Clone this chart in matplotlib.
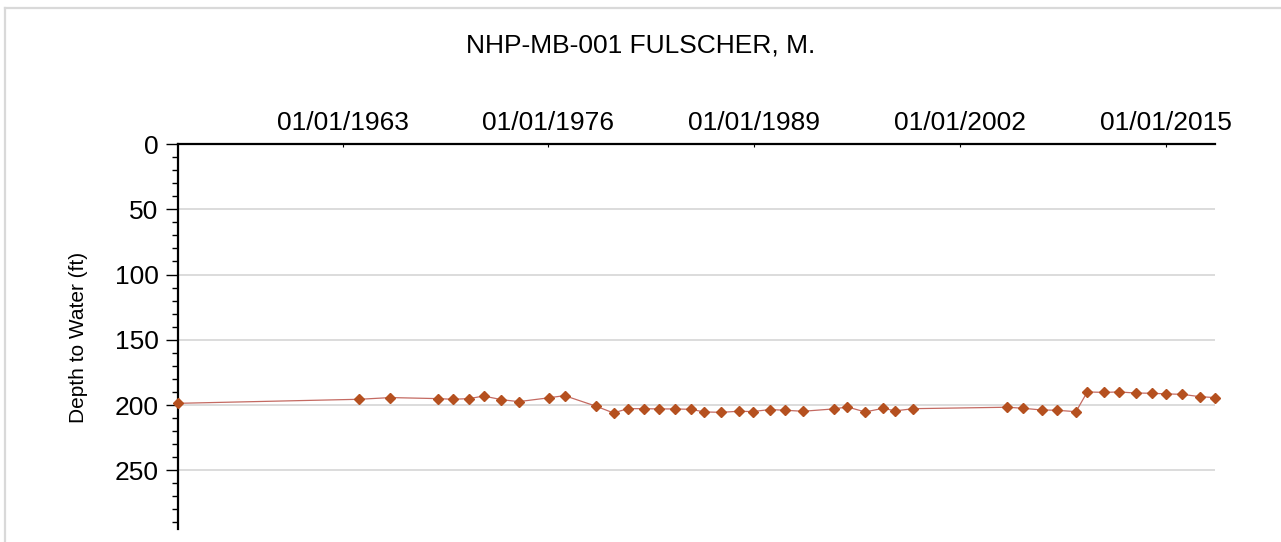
import matplotlib
matplotlib.use("Agg")
import matplotlib.pyplot as plt
import matplotlib.dates as mdates
from matplotlib.ticker import FixedLocator, MultipleLocator
from matplotlib.lines import Line2D
import pandas as pd

plt.rcParams['font.family'] = ['Liberation Sans', 'DejaVu Sans']

title = "NHP-MB-001 FULSCHER, M."
y_label = "Depth to Water (ft)"

dates = [
    "1952-08-08", "1964-01-25", "1966-01-10", "1969-01-15", "1969-12-15",
    "1971-01-01", "1971-12-01", "1973-01-15", "1974-02-15", "1976-01-08",
    "1977-01-10", "1979-01-15", "1980-02-15", "1981-01-05", "1982-01-25",
    "1982-12-20", "1984-01-08", "1985-01-05", "1985-11-05", "1986-12-05",
    "1988-01-08", "1988-12-05", "1989-12-25", "1990-12-20", "1992-01-30",
    "1994-01-08", "1994-11-25", "1996-01-08", "1997-03-01", "1997-11-28",
    "1999-01-25", "2005-01-01", "2006-01-05", "2007-03-01", "2008-02-15",
    "2009-05-05", "2010-01-20", "2011-02-10", "2012-01-25", "2013-02-10",
    "2014-03-05", "2015-01-20", "2016-01-20", "2017-03-01", "2018-02-15",
]
depth_ft = [
    198.7, 195.6, 194.3, 195.1, 195.6,
    195.1, 193.1, 195.9, 197.4, 194.5,
    192.8, 201.0, 206.1, 202.8, 202.8,
    203.0, 203.0, 203.3, 205.3, 205.6,
    204.8, 205.0, 203.5, 204.0, 204.8,
    203.0, 201.5, 205.3, 202.5, 204.5,
    202.8, 201.7, 202.5, 203.8, 204.0,
    205.1, 190.0, 190.3, 190.0, 190.8,
    191.0, 191.5, 191.8, 193.6, 194.3,
]
x_tick_dates = ["1963-01-01", "1976-01-01", "1989-01-01", "2002-01-01", "2015-01-01"]
y_ticks = [0, 50, 100, 150, 200, 250]
y_max = 295

W, H = 1281, 542
fig = plt.figure(figsize=(W / 100, H / 100), dpi=100)
fig.patch.set_facecolor("white")

left, right, top, bottom = 178, 1215, 144, 529
ax = fig.add_axes([left / W, 1 - bottom / H, (right - left) / W, (bottom - top) / H])

x = pd.to_datetime(dates)
ax.plot(x, depth_ft, color="#c46a62", lw=0.9, zorder=3, clip_on=False)
ax.plot(x, depth_ft, linestyle="none", marker="D", markersize=5.4,
        markerfacecolor="#b5501f", markeredgecolor="#b5501f", zorder=4, clip_on=False)

ax.set_xlim(x.min(), x.max())
ax.set_ylim(y_max, 0)

for yv in y_ticks[1:]:
    ax.axhline(yv, color="#d6d6d6", lw=1.2, zorder=1)

ax.xaxis.tick_top()
ax.xaxis.set_major_locator(FixedLocator(mdates.date2num(pd.to_datetime(x_tick_dates))))
ax.xaxis.set_major_formatter(mdates.DateFormatter("%m/%d/%Y"))
ax.tick_params(axis="x", which="major", direction="in", length=2.5, width=0.8,
               labelsize=19, pad=6.5, colors="black")

ax.yaxis.set_major_locator(FixedLocator(y_ticks))
ax.yaxis.set_minor_locator(MultipleLocator(10))
ax.tick_params(axis="y", which="major", direction="out", length=9, width=1.0,
               labelsize=19, pad=5)
ax.tick_params(axis="y", which="minor", direction="out", length=4, width=1.0)

for s in ["right", "bottom"]:
    ax.spines[s].set_visible(False)
for s in ["top", "left"]:
    ax.spines[s].set_linewidth(1.6)
    ax.spines[s].set_color("black")

fig.text(0.5, 1 - 53 / H, title, ha="center", va="baseline", fontsize=19)
fig.text(78 / W, 1 - 337.5 / H, y_label, rotation=90, ha="center", va="center", fontsize=15)

# frame lines (top and left)
fig.add_artist(Line2D([5 / W, 1], [1 - 8 / H, 1 - 8 / H], color="#d9d9d9", lw=1.6))
fig.add_artist(Line2D([5 / W, 5 / W], [0, 1 - 8 / H], color="#d9d9d9", lw=1.6))

fig.savefig("out.png", dpi=100, facecolor="white")
